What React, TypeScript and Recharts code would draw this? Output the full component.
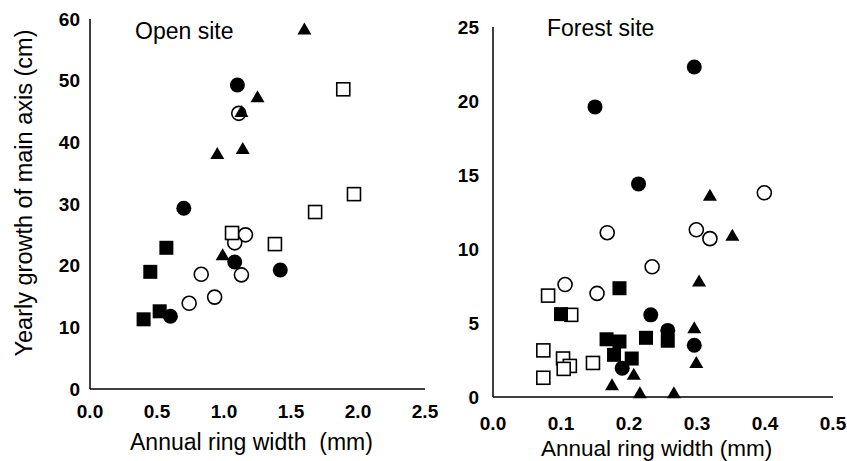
import { ScatterChart, Scatter, XAxis, YAxis } from 'recharts';

type Pt = { x: number; y: number };

// Open site (ring width mm, yearly growth cm)
const openFilledTriangle: Pt[] = [
  { x: 1.6, y: 58.3 }, { x: 1.25, y: 47.3 }, { x: 1.13, y: 44.9 },
  { x: 1.14, y: 38.9 }, { x: 0.95, y: 38.1 }, { x: 0.99, y: 21.7 },
];
const openFilledCircle: Pt[] = [
  { x: 1.1, y: 49.3 }, { x: 0.7, y: 29.3 }, { x: 1.08, y: 20.6 },
  { x: 1.42, y: 19.3 }, { x: 0.6, y: 11.8 },
];
const openOpenCircle: Pt[] = [
  { x: 1.11, y: 44.7 }, { x: 1.16, y: 25.0 }, { x: 1.08, y: 23.7 },
  { x: 0.83, y: 18.6 }, { x: 1.13, y: 18.5 }, { x: 0.93, y: 14.9 }, { x: 0.74, y: 13.9 },
];
const openOpenSquare: Pt[] = [
  { x: 1.89, y: 48.6 }, { x: 1.97, y: 31.6 }, { x: 1.68, y: 28.7 },
  { x: 1.38, y: 23.5 }, { x: 1.06, y: 25.3 },
];
const openFilledSquare: Pt[] = [
  { x: 0.57, y: 22.9 }, { x: 0.45, y: 19.0 }, { x: 0.52, y: 12.6 }, { x: 0.4, y: 11.3 },
];

// Forest site
const forestFilledCircle: Pt[] = [
  { x: 0.296, y: 22.3 }, { x: 0.15, y: 19.6 }, { x: 0.214, y: 14.4 },
  { x: 0.232, y: 5.55 }, { x: 0.257, y: 4.5 }, { x: 0.296, y: 3.5 }, { x: 0.19, y: 1.95 },
];
const forestFilledTriangle: Pt[] = [
  { x: 0.319, y: 13.6 }, { x: 0.352, y: 10.9 }, { x: 0.303, y: 7.8 },
  { x: 0.296, y: 4.65 }, { x: 0.299, y: 2.3 }, { x: 0.207, y: 1.5 },
  { x: 0.175, y: 0.8 }, { x: 0.216, y: 0.25 }, { x: 0.266, y: 0.25 },
];
const forestOpenCircle: Pt[] = [
  { x: 0.399, y: 13.8 }, { x: 0.299, y: 11.3 }, { x: 0.319, y: 10.7 },
  { x: 0.168, y: 11.1 }, { x: 0.234, y: 8.8 }, { x: 0.106, y: 7.6 }, { x: 0.153, y: 7.0 },
];
const forestFilledSquare: Pt[] = [
  { x: 0.186, y: 7.35 }, { x: 0.1, y: 5.6 }, { x: 0.167, y: 3.9 }, { x: 0.186, y: 3.75 },
  { x: 0.178, y: 2.85 }, { x: 0.204, y: 2.6 }, { x: 0.225, y: 4.0 }, { x: 0.257, y: 3.8 },
];
const forestOpenSquare: Pt[] = [
  { x: 0.081, y: 6.85 }, { x: 0.115, y: 5.55 }, { x: 0.074, y: 3.15 }, { x: 0.103, y: 2.6 },
  { x: 0.113, y: 2.1 }, { x: 0.104, y: 1.9 }, { x: 0.147, y: 2.3 }, { x: 0.074, y: 1.3 },
];

const openXTicks = [0, 0.5, 1, 1.5, 2, 2.5];
const openYTicks = [0, 10, 20, 30, 40, 50, 60];
const forestXTicks = [0, 0.1, 0.2, 0.3, 0.4, 0.5];
const forestYTicks = [0, 5, 10, 15, 20, 25];

const FONT = '"Liberation Sans", Arial, sans-serif';
const tick = { fontSize: 19, fill: '#000', fontFamily: FONT, fontWeight: 600 };
const axisLine = { stroke: '#000', strokeWidth: 1.5 };

const filledCircle = (p: any) => <circle cx={p.cx} cy={p.cy} r={7.5} fill="#000" />;
const openCircle = (p: any) => (
  <circle cx={p.cx} cy={p.cy} r={7} fill="#fff" stroke="#000" strokeWidth={1.6} />
);
const filledSquare = (p: any) => (
  <rect x={p.cx - 7} y={p.cy - 7} width={14} height={14} fill="#000" />
);
const openSquare = (p: any) => (
  <rect x={p.cx - 6.5} y={p.cy - 6.5} width={13} height={13} fill="#fff" stroke="#000" strokeWidth={1.6} />
);
const filledTriangle = (p: any) => (
  <polygon
    points={`${p.cx},${p.cy - 7} ${p.cx - 7},${p.cy + 5} ${p.cx + 7},${p.cy + 5}`}
    fill="#000"
  />
);

const text = (left: number, top: number, size: number, content: string) => (
  <div
    style={{
      position: 'absolute', left, top, fontSize: size, fontFamily: FONT,
      color: '#000', whiteSpace: 'nowrap', lineHeight: 1,
    }}
  >
    {content}
  </div>
);

export default function App() {
  return (
    <div style={{ position: 'absolute', left: 0, top: 0, width: 847, height: 461, background: '#fff', overflow: 'hidden' }}>
      <div style={{ position: 'absolute', left: 0, top: 0 }}>
        <ScatterChart width={440} height={461} margin={{ top: 19, right: 15, bottom: 0, left: 0 }}>
          <XAxis
            type="number" dataKey="x" domain={[0, 2.5]} ticks={openXTicks}
            tickFormatter={(v: number) => v.toFixed(1)} tick={tick}
            axisLine={axisLine} tickLine={false} tickMargin={10} height={72}
          />
          <YAxis
            type="number" dataKey="y" domain={[0, 60]} ticks={openYTicks}
            tick={tick} axisLine={axisLine} tickLine={false} tickMargin={4} width={90}
          />
          <Scatter data={openOpenCircle} shape={openCircle} isAnimationActive={false} />
          <Scatter data={openOpenSquare} shape={openSquare} isAnimationActive={false} />
          <Scatter data={openFilledSquare} shape={filledSquare} isAnimationActive={false} />
          <Scatter data={openFilledCircle} shape={filledCircle} isAnimationActive={false} />
          <Scatter data={openFilledTriangle} shape={filledTriangle} isAnimationActive={false} />
        </ScatterChart>
      </div>
      <div style={{ position: 'absolute', left: 430, top: 0 }}>
        <ScatterChart width={417} height={461} margin={{ top: 27, right: 14, bottom: 0, left: 0 }}>
          <XAxis
            type="number" dataKey="x" domain={[0, 0.5]} ticks={forestXTicks}
            tickFormatter={(v: number) => v.toFixed(1)} tick={tick}
            axisLine={axisLine} tickLine={false} tickMargin={14} height={64}
          />
          <YAxis
            type="number" dataKey="y" domain={[0, 25]} ticks={forestYTicks}
            tick={tick} axisLine={axisLine} tickLine={false} tickMargin={8} width={63}
          />
          <Scatter data={forestOpenCircle} shape={openCircle} isAnimationActive={false} />
          <Scatter data={forestOpenSquare} shape={openSquare} isAnimationActive={false} />
          <Scatter data={forestFilledSquare} shape={filledSquare} isAnimationActive={false} />
          <Scatter data={forestFilledCircle} shape={filledCircle} isAnimationActive={false} />
          <Scatter data={forestFilledTriangle} shape={filledTriangle} isAnimationActive={false} />
        </ScatterChart>
      </div>
      {text(135, 20, 23, 'Open site')}
      {text(547, 17, 23, 'Forest site')}
      {text(130, 431, 23, 'Annual ring width\u00a0\u00a0(mm)')}
      {text(541, 438, 22.5, 'Annual ring width (mm)')}
      <div
        style={{
          position: 'absolute', left: 25, top: 193, fontSize: 23.5, fontFamily: FONT,
          whiteSpace: 'nowrap', lineHeight: 1, transform: 'translate(-50%, -50%) rotate(-90deg)',
        }}
      >
        Yearly growth of main axis (cm)
      </div>
    </div>
  );
}
